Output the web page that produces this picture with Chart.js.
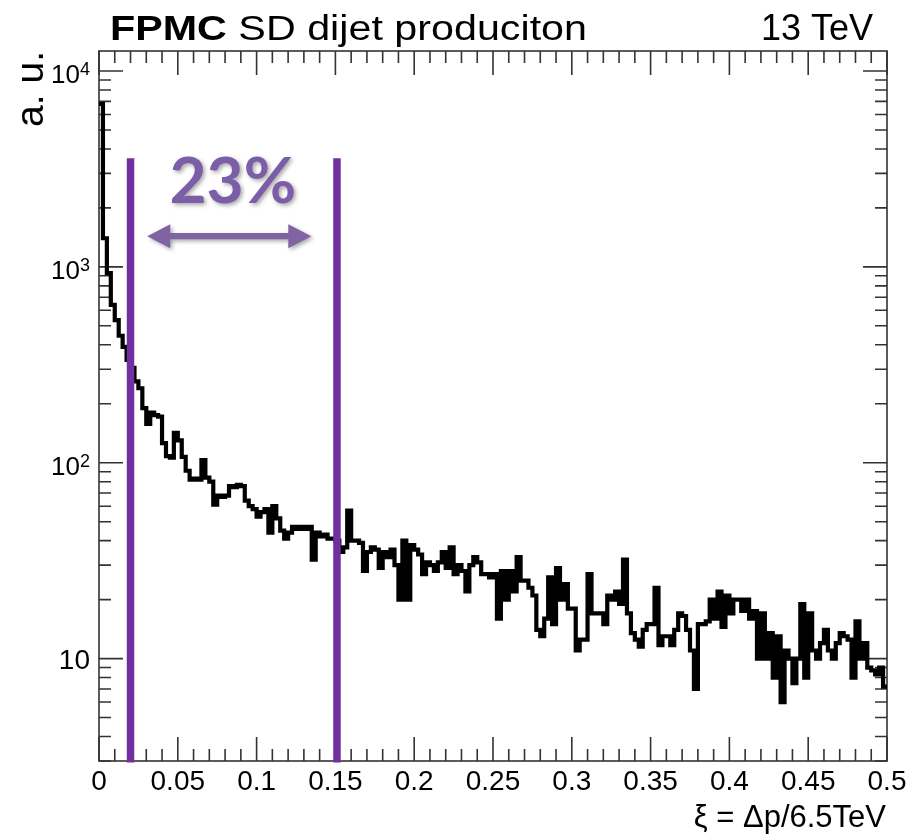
<!DOCTYPE html>
<html>
<head>
<meta charset="utf-8">
<script src="https://cdn.jsdelivr.net/npm/chart.js@4.4.1/dist/chart.umd.min.js"></script>
<style>
  html, body { margin: 0; padding: 0; background: #fff; }
  canvas { display: block; }
</style>
</head>
<body>
<canvas id="c" width="918" height="837"></canvas>
<script>
// FPMC single-diffractive dijets, xi of the proton, 200 bins of 0.0025 (a.u.)
const binWidth = 0.0025
const xiCounts = [
  6800, 1400, 930, 640, 535, 445, 390, 335, 305, 260,
  240, 190, 158, 180, 175, 172, 126, 108, 106, 142,
  130, 107, 91, 82, 83, 82, 103, 84, 80, 61,
  68, 67, 68, 76, 75, 77, 76, 64, 60, 58,
  53, 56, 58, 44, 60, 52, 45, 41, 44, 47,
  46, 47, 46, 47, 32, 44, 42, 43, 41, 41,
  40, 35, 37, 57, 40, 40, 39, 28, 35, 37,
  36, 29, 35, 33, 36, 30, 20, 40, 20, 38,
  36, 34, 27, 31, 30, 28, 31, 35, 29, 37,
  27, 30, 28, 22, 30, 33, 31, 27, 27, 26,
  27, 16, 28, 20, 28, 22, 33, 25, 25, 23,
  21, 14, 13, 16, 26, 15, 29, 20, 24, 18,
  18, 11, 12.5, 12.5, 27, 17, 17, 17, 15, 21,
  20, 22, 19, 32, 17, 13.5, 12.5, 11.5, 14, 15,
  15, 23, 11.7, 13, 13, 11.7, 14, 17, 16.5, 14,
  11, 7, 15, 15, 15.5, 20, 16, 22, 14.5, 21,
  17, 20, 20, 17.5, 20, 16, 17.5, 10, 17, 10,
  13.5, 8, 13, 6, 11, 10, 7.5, 10, 19, 8,
  17, 11, 10, 12, 14, 11, 10, 12, 13.5, 13,
  12.5, 8, 15.5, 10, 12, 9, 8.7, 8.3, 9, 7.2
]
// left edge of every bin
const xiEdges = xiCounts.map((_, i) => +(i * binWidth).toFixed(4))

const xRange = [0, 0.5]
const yRange = [3.0, 12650]
const xTickValues = [0, 0.05, 0.1, 0.15, 0.2, 0.25, 0.3, 0.35, 0.4, 0.45, 0.5]
const xTickLabels = ["0", "0.05", "0.1", "0.15", "0.2", "0.25", "0.3", "0.35", "0.4", "0.45", "0.5"]
const yTickValues = [10, 100, 1000, 10000]
const yTickLabels = [["10", ""], ["10", "2"], ["10", "3"], ["10", "4"]]

// the two xi cuts and the fraction between them
const cutLines = [0.02, 0.151]
const cutLineTop = 3590
const arrowFrom = 0.0306
const arrowTo = 0.1347
const arrowLevel = 1435
const fractionText = "23%"
const fractionAt = [0.0849, 2113]

const FONT = '"Liberation Sans", Arial, Helvetica, sans-serif'
const PURPLE_LINE = "#7030a0"
const PURPLE_SOFT = "#8064a2"

// histogram outline: each bin value starts at its left edge, last point closes at 0.5
const histPoints = xiEdges.map((x, i) => ({ x, y: xiCounts[i] }))
histPoints.push({ x: xRange[1], y: xiCounts[xiCounts.length - 1] })

const frameAndAxes = {
  id: "frameAndAxes",
  beforeDatasetsDraw(chart) {
    const { ctx, chartArea: a, scales: { x, y } } = chart
    ctx.save()
    ctx.strokeStyle = "#333"
    ctx.lineWidth = 1.6
    ctx.strokeRect(a.left, a.top, a.right - a.left, a.bottom - a.top)

    // ROOT style ticks, all pointing inward, on all four sides
    ctx.beginPath()
    for (let k = 0; k <= 50; k++) {
      const px = x.getPixelForValue(k / 100)
      const len = k % 5 === 0 ? 24 : 12
      ctx.moveTo(px, a.bottom); ctx.lineTo(px, a.bottom - len)
      ctx.moveTo(px, a.top); ctx.lineTo(px, a.top + len)
    }
    for (let d = 1; d <= 10000; d *= 10) {
      for (let m = 1; m <= 9; m++) {
        const v = m * d
        if (v < yRange[0] || v > yRange[1]) continue
        const py = y.getPixelForValue(v)
        const len = m === 1 ? 24 : 12
        ctx.moveTo(a.left, py); ctx.lineTo(a.left + len, py)
        ctx.moveTo(a.right, py); ctx.lineTo(a.right - len, py)
      }
    }
    ctx.stroke()

    // x tick labels
    ctx.fillStyle = "#000"
    ctx.font = "28px " + FONT
    ctx.textAlign = "center"
    ctx.textBaseline = "alphabetic"
    xTickValues.forEach((v, i) => {
      ctx.fillText(xTickLabels[i], x.getPixelForValue(v), a.bottom + 29)
    })

    // y tick labels, 10^n with a raised exponent
    ctx.textAlign = "right"
    yTickValues.forEach((v, i) => {
      const py = y.getPixelForValue(v)
      const [base, exp] = yTickLabels[i]
      const right = a.left - 9
      if (!exp) {
        ctx.font = "28px " + FONT
        ctx.fillText(base, right, py + 10)
        return
      }
      ctx.font = "18px " + FONT
      const ew = ctx.measureText(exp).width
      ctx.fillText(exp, right, py + 4)
      ctx.font = "26px " + FONT
      ctx.fillText(base, right - ew, py + 12)
    })

    // axis titles
    ctx.font = "31px " + FONT
    ctx.textAlign = "right"
    ctx.fillText("\u03be = \u0394p/6.5TeV", a.right - 1, 827)

    ctx.save()
    ctx.translate(43, a.top)
    ctx.rotate(-Math.PI / 2)
    ctx.font = "39px " + FONT
    ctx.textAlign = "right"
    ctx.fillText("a. u.", 0, 0)
    ctx.restore()

    // header: "FPMC SD dijet produciton" and energy
    ctx.save()
    ctx.textAlign = "left"
    ctx.font = "bold 35px " + FONT
    const w1 = ctx.measureText("FPMC").width
    ctx.font = "35px " + FONT
    const w2 = ctx.measureText(" SD dijet produciton").width
    ctx.translate(110, 40)
    ctx.scale(477 / (w1 + w2), 1)
    ctx.font = "bold 35px " + FONT
    ctx.fillText("FPMC", 0, 0)
    ctx.font = "35px " + FONT
    ctx.fillText(" SD dijet produciton", w1, 0)
    ctx.restore()

    ctx.font = "36px " + FONT
    ctx.textAlign = "right"
    ctx.fillText("13 TeV", 873, 40)
    ctx.restore()
  }
}

const cutAnnotations = {
  id: "cutAnnotations",
  afterDatasetsDraw(chart) {
    const { ctx, chartArea: a, scales: { x, y } } = chart
    ctx.save()

    // vertical cut lines
    ctx.strokeStyle = PURPLE_LINE
    ctx.lineWidth = 7.5
    cutLines.forEach((v) => {
      const px = x.getPixelForValue(v)
      ctx.beginPath()
      ctx.moveTo(px, y.getPixelForValue(cutLineTop))
      ctx.lineTo(px, a.bottom + 1.5)
      ctx.stroke()
    })

    // double headed arrow with a soft shadow
    ctx.shadowColor = "rgba(0,0,0,0.35)"
    ctx.shadowBlur = 4
    ctx.shadowOffsetX = 2
    ctx.shadowOffsetY = 2
    const x0 = x.getPixelForValue(arrowFrom)
    const x1 = x.getPixelForValue(arrowTo)
    const ay = y.getPixelForValue(arrowLevel)
    const head = 23, half = 12, shaft = 3.2
    ctx.fillStyle = PURPLE_SOFT
    ctx.beginPath()
    ctx.moveTo(x0, ay)
    ctx.lineTo(x0 + head, ay - half)
    ctx.lineTo(x0 + head, ay - shaft)
    ctx.lineTo(x1 - head, ay - shaft)
    ctx.lineTo(x1 - head, ay - half)
    ctx.lineTo(x1, ay)
    ctx.lineTo(x1 - head, ay + half)
    ctx.lineTo(x1 - head, ay + shaft)
    ctx.lineTo(x0 + head, ay + shaft)
    ctx.lineTo(x0 + head, ay + half)
    ctx.closePath()
    ctx.fill()

    // fraction label
    ctx.font = 'bold 64px Lato, "Open Sans", sans-serif'
    ctx.textAlign = "center"
    ctx.textBaseline = "alphabetic"
    ctx.fillStyle = "#7b5ea7"
    ctx.fillText(fractionText, x.getPixelForValue(fractionAt[0]), y.getPixelForValue(fractionAt[1]))
    ctx.restore()
  }
}

new Chart(document.getElementById("c"), {
  type: "line",
  data: {
    datasets: [{
      data: histPoints,
      stepped: true,
      borderColor: "#000",
      borderWidth: 4.2,
      borderJoinStyle: "miter",
      pointRadius: 0,
      fill: false,
      tension: 0
    }]
  },
  options: {
    responsive: false,
    animation: false,
    devicePixelRatio: 1,
    layout: { padding: { left: 99, top: 51, right: 31, bottom: 76 } },
    scales: {
      x: { type: "linear", min: xRange[0], max: xRange[1], bounds: "data", display: false },
      y: { type: "logarithmic", min: yRange[0], max: yRange[1], bounds: "data", display: false }
    },
    plugins: { legend: { display: false }, tooltip: { enabled: false }, title: { display: false } }
  },
  plugins: [frameAndAxes, cutAnnotations]
})
</script>
</body>
</html>
